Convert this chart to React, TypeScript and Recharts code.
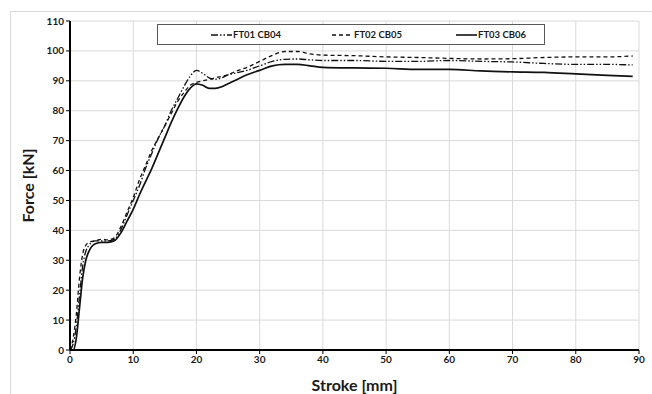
import { LineChart, Line, XAxis, YAxis, CartesianGrid } from 'recharts';

// stroke positions in mm, shared by all three tests
const strokeMm = [
  0, 0.5, 1, 1.5, 2, 2.5, 3, 4, 5, 6, 7, 8, 9, 10, 11, 12, 13, 14, 15, 16, 17, 18, 19, 20,
  21, 22, 23, 24, 25, 26, 28, 30, 32, 34, 36, 38, 40, 45, 50, 55, 60, 65, 70, 75, 80, 85, 89,
];

const ft01 = [
  0, 2, 8, 18, 28, 33, 35, 36.5, 36.5, 36.5, 37, 40, 45, 50, 55, 61, 66, 71, 75, 80, 84, 88, 91.5, 93.5,
  92.5, 91, 90.5, 91, 92, 92.5, 93.5, 95, 96.5, 97.2, 97.3, 97, 96.8, 96.8, 96.5, 96.5, 96.8, 96.5, 96.3, 95.8, 95.5, 95.5, 95.3,
];

const ft02 = [
  0, 4, 12, 24, 32, 35, 36, 36.5, 37, 36.8, 37.5, 41, 46, 51, 57, 62, 67, 71, 75, 79, 83, 86, 88.5, 89.5,
  90, 90.5, 91, 91.5, 92, 93, 94.5, 96.5, 98.5, 99.8, 99.8, 99, 98.6, 98.4, 98, 97.8, 97.5, 97.3, 97.4, 97.8, 98, 98, 98.3,
];

const ft03 = [
  0, 0, 4, 14, 24, 30, 33, 35.5, 36, 36, 36.5, 39, 43, 47, 52, 56.5, 61, 66, 71, 76, 80.5, 84.5, 87.5, 89,
  88.5, 87.5, 87.5, 88, 89, 90, 92, 93.5, 95, 95.5, 95.5, 95, 94.5, 94.3, 94.2, 93.8, 93.8, 93.3, 93, 92.8, 92.3, 91.8, 91.5,
];

const xTicks = [0, 10, 20, 30, 40, 50, 60, 70, 80, 90];
const yTicks = [0, 10, 20, 30, 40, 50, 60, 70, 80, 90, 100, 110];

const seriesNames = ['FT01 CB04', 'FT02 CB05', 'FT03 CB06'];

const rows = strokeMm.map((s, i) => ({ stroke: s, ft01: ft01[i], ft02: ft02[i], ft03: ft03[i] }));

const font = 'Lato, "Open Sans", sans-serif';
const tickStyle = { fill: '#1a1a1a', fontSize: 10, fontWeight: 700, fontFamily: font };

const legendItems = [
  { name: seriesNames[0], dash: '7 2 1.5 2 1.5 2', width: 1.3, left: 53 },
  { name: seriesNames[1], dash: '4 3', width: 1.3, left: 174 },
  { name: seriesNames[2], dash: undefined, width: 1.6, left: 298 },
];

export default function App() {
  return (
    <div style={{ position: 'absolute', left: 0, top: 0, width: 652, height: 394, background: '#fff' }}>
      <div
        style={{
          position: 'absolute',
          left: 10,
          top: 11,
          width: 642,
          height: 383,
          borderLeft: '1px solid #d9d9d9',
          borderTop: '1px solid #d9d9d9',
          boxSizing: 'border-box',
        }}
      />
      <LineChart
        width={652}
        height={394}
        data={rows}
        margin={{ top: 21, right: 13, bottom: 0, left: 29 }}
        style={{ position: 'absolute', left: 0, top: 0 }}
      >
        <CartesianGrid stroke="#d9d9d9" strokeWidth={1} />
        <XAxis
          dataKey="stroke"
          type="number"
          domain={[0, 90]}
          ticks={xTicks}
          interval={0}
          tick={tickStyle}
          tickSize={4}
          stroke="#000"
          strokeWidth={2}
          tickLine={{ stroke: '#000', strokeWidth: 1 }}
          height={44}
          label={{
            value: 'Stroke [mm]',
            position: 'insideBottom',
            offset: 3,
            style: { fill: '#1a1a1a', fontSize: 16, fontWeight: 700, fontFamily: font },
          }}
        />
        <YAxis
          type="number"
          domain={[0, 110]}
          ticks={yTicks}
          interval={0}
          tick={tickStyle}
          tickSize={4}
          width={41}
          stroke="#000"
          strokeWidth={2}
          tickLine={{ stroke: '#000', strokeWidth: 1 }}
          label={{
            value: 'Force [kN]',
            angle: -90,
            position: 'left',
            offset: 1,
            style: { fill: '#1a1a1a', fontSize: 16, fontWeight: 700, fontFamily: font, textAnchor: 'middle' },
          }}
        />
        <Line
          dataKey="ft01"
          name={seriesNames[0]}
          stroke="#111"
          strokeWidth={1.3}
          strokeDasharray="7 2 1.5 2 1.5 2"
          dot={false}
          type="monotone"
          isAnimationActive={false}
        />
        <Line
          dataKey="ft02"
          name={seriesNames[1]}
          stroke="#111"
          strokeWidth={1.3}
          strokeDasharray="4 3"
          dot={false}
          type="monotone"
          isAnimationActive={false}
        />
        <Line
          dataKey="ft03"
          name={seriesNames[2]}
          stroke="#111"
          strokeWidth={1.7}
          dot={false}
          type="monotone"
          isAnimationActive={false}
        />
      </LineChart>
      <div
        style={{
          position: 'absolute',
          left: 157,
          top: 24,
          width: 388,
          height: 21,
          border: '1px solid #595959',
          background: '#fff',
          boxSizing: 'border-box',
        }}
      >
        {legendItems.map((it) => (
          <div
            key={it.name}
            style={{ position: 'absolute', left: it.left, top: 3, display: 'flex', alignItems: 'center', height: 13 }}
          >
            <svg width={21} height={6}>
              <line x1={0} y1={3} x2={21} y2={3} stroke="#111" strokeWidth={it.width} strokeDasharray={it.dash} />
            </svg>
            <span style={{ fontFamily: font, fontSize: 9.5, fontWeight: 700, color: '#1a1a1a', marginLeft: 1 }}>
              {it.name}
            </span>
          </div>
        ))}
      </div>
    </div>
  );
}
